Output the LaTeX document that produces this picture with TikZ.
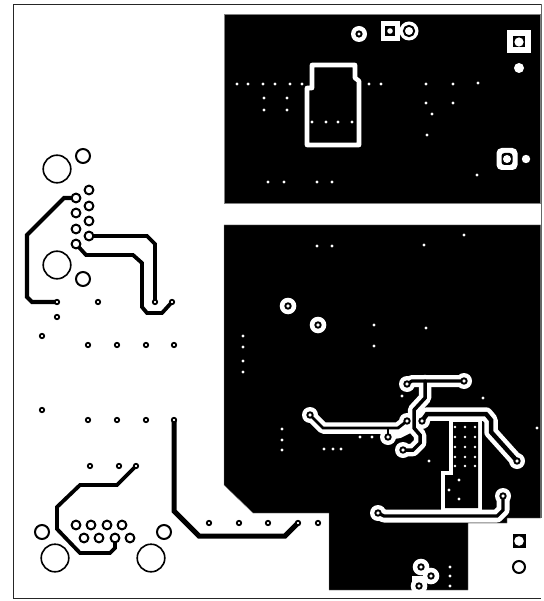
\documentclass[tikz,border=0pt]{standalone}
\tikzset{
  plane/.style={fill=black,draw=black!50,line width=0.4pt},
  clear/.style={draw=white,line width=#1,line join=round,line cap=round},
  cu/.style={draw=black,line width=#1,line join=miter,line cap=round},
  frameline/.style={draw=black!85,line width=1.8pt},
  dot/.style={fill=white,draw=none},
  bigring/.style={draw=black,fill=white,line width=1.6pt},
  midring/.style={draw=black,fill=white,line width=2pt},
  via/.style={draw=black,fill=white,line width=1.8pt},
}
\begin{document}
\begin{tikzpicture}[x=1pt,y=-1pt]
\useasboundingbox (0,0) rectangle (543,601);
\fill[white] (0,0) rectangle (543,601);
% board outline
\draw[frameline] (541,4.5) -- (13.5,4.5) -- (13.5,598.5) -- (541,598.5);
\draw[draw=black!60,line width=0.8pt] (541,4.5) -- (541,518);
% copper planes
\fill[plane] (224,14.5) rectangle (540.5,203);
\fill[plane] (224,225) -- (540.5,225) -- (540.5,518) -- (507,518) -- (507,523) -- (468,523) -- (468,590) -- (329,590) -- (329,513) -- (253,513) -- (224,485) -- cycle;
% stitching dots
\foreach \x/\y in {237/84,248/84,263/84,275/84,290/84,302/84,369/84,381/84,426/84,453/84,478/83,264/98,287/98,264/110,287/110,426/103,453/103,432/114,427/135,312/122,326/122,338/122,352/122,268/182,284/182,317/182,332/182,477/175,
317/246,332/246,424/245,464/235,374/325,426/328,374/346,243/336,243/347,243/361,243/372,282/429,282/440,282/450,360/437,372/437,324/449,333/449,341/449,402/396,483/398,537/428,429/461,450/567,450/576,450/586}
  \fill[dot] (\x,\y) circle (1.7);
% component outline in top plane
\draw[clear=4.6] (312,65) -- (355,65) -- (355,78) -- (359,81) -- (359,145) -- (307,145) -- (307,88) -- (312,88) -- cycle;
% top plane pads
\fill[white] (381,21) rectangle (400,41);
\fill[black] (385,26) rectangle (395,36);
\fill[white] (390,31) circle (2.8);
\fill[white] (409,31) circle (9.5);
\draw[black,line width=1.9pt] (409,31) circle (5.2);
\fill[white] (359,34) circle (8);
\draw[black,line width=1.9pt] (359,34) circle (2.6);
\fill[white] (507,30) rectangle (530.5,53.5);
\fill[black] (513,36) rectangle (525,47.5);
\fill[white] (519,42) circle (4.6);
\fill[white] (519,68) circle (5);
\fill[white,rounded corners=5pt] (496.5,148) rectangle (517.5,170);
\fill[black,rounded corners=3pt] (501.5,153) rectangle (512.5,165);
\fill[white] (507,159) circle (4);
\fill[white] (526,159) circle (4.2);
% pads mid plane
\foreach \x/\y in {288/306,318/325,421/567,431/576,419/586}
  \fill[white] (\x,\y) circle (8.3);
\fill[white] (412,576) rectangle (426,590);
\foreach \x/\y in {288/306,318/325,421/567,431/576,419/586}
  \draw[black,line width=1.9pt] (\x,\y) circle (2.7);
% clearance around traces
\draw[clear=12] (407,384) -- (412,381) -- (464,381);
\draw[clear=12.5] (425,381) -- (425,398) -- (414,410) -- (414,428) -- (420,435) -- (420,443) -- (413,450) -- (403,450);
\draw[clear=11.5] (310,415) -- (323,428) -- (398,428) -- (407,421);
\draw[clear=6] (388,437) -- (400,435) -- (408,431) -- (414,428);
\draw[clear=13.5] (422,421) -- (427,414) -- (486,414) -- (491,420) -- (491,432) -- (517,461);
\draw[draw=white,line width=8pt,line join=miter] (453,422) -- (478,422) -- (478,508) -- (445,508) -- (445,475) -- (453,475) -- cycle;
\draw[clear=13] (378,513) -- (384,516) -- (497,516) -- (503,510) -- (503,496);
\foreach \x/\y in {407/384,464/381,310/415,407/421,388/437,403/450,422/421,517/461,378/513,503/496}
  \fill[white] (\x,\y) circle (8);
\fill[black] (453,422) -- (478,422) -- (478,508) -- (445,508) -- (445,475) -- (453,475) -- cycle;
\foreach \x/\y in {455/427,465/427,475/427,455/437,465/437,475/437,455/447,465/447,475/447,455/457,465/457,475/457,455/466,465/466,475/466}
  \fill[dot] (\x,\y) circle (1.3);
\foreach \x/\y in {459/480,449/490,459/499,412/432}
  \fill[dot] (\x,\y) circle (1.7);
% traces in plane
\draw[cu=3.2] (407,384) -- (412,381) -- (464,381);
\draw[cu=3.5] (425,381) -- (425,398) -- (414,410) -- (414,428) -- (420,435) -- (420,443) -- (413,450) -- (403,450);
\draw[cu=2.8] (310,415) -- (323,428) -- (398,428) -- (407,421);
\draw[cu=1.2] (388,437) -- (388,428);
\draw[cu=4.5] (422,421) -- (427,414) -- (486,414) -- (491,420) -- (491,432) -- (517,461);
\draw[cu=3.2] (378,513) -- (384,516) -- (497,516) -- (503,510) -- (503,496);
\foreach \x/\y in {407/384,464/381,310/415,407/421,388/437,403/450,422/421,517/461,378/513,503/496}
  \draw[black,fill=white,line width=1.9pt] (\x,\y) circle (2.7);
% right bottom pads
\fill[black] (512.5,534) rectangle (526,548);
\fill[white] (519,541) circle (4.8);
\draw[midring] (519,567) circle (6);
% left side traces
\draw[cu=4.2] (57,302) -- (32,302) -- (27,297) -- (27,235) -- (64,198) -- (76,198);
\draw[cu=3.8] (89,236) -- (147,236) -- (155,244) -- (155,302);
\draw[cu=3.8] (76,244) -- (86,255) -- (133,255) -- (142,263) -- (142,307) -- (147,313) -- (162,313) -- (172,302);
\draw[cu=3.8] (136,466) -- (117,485) -- (80,485) -- (57,507) -- (57,529) -- (80,553) -- (110,553) -- (115,548) -- (115,538);
\draw[cu=5] (174,420) -- (174,511) -- (199,536) -- (285,536) -- (298,523);
% large and small mounting rings
\foreach \x/\y in {57/169,57/265,55/558,151/558}
  \draw[bigring] (\x,\y) circle (13.8);
\foreach \x/\y in {83/156,83/279,42/532,164/532}
  \draw[midring] (\x,\y) circle (7);
% connector pads
\foreach \x/\y in {89/190,89/206,89/221,89/236,76/198,76/213,76/229,76/244,76/525,91/525,107/525,122/525,84/538,99/538,115/538,130/538}
  \draw[midring] (\x,\y) circle (4.4);
% vias
\foreach \x/\y in {57/302,98/302,155/302,172/302,57/317,42/336,88/345,117/345,146/345,174/345,42/410,88/420,117/420,146/420,174/420,90/466,119/466,136/466,209/523,239/523,268/523,298/523,318/523}
  \draw[via] (\x,\y) circle (2.2);
\end{tikzpicture}
\end{document}
